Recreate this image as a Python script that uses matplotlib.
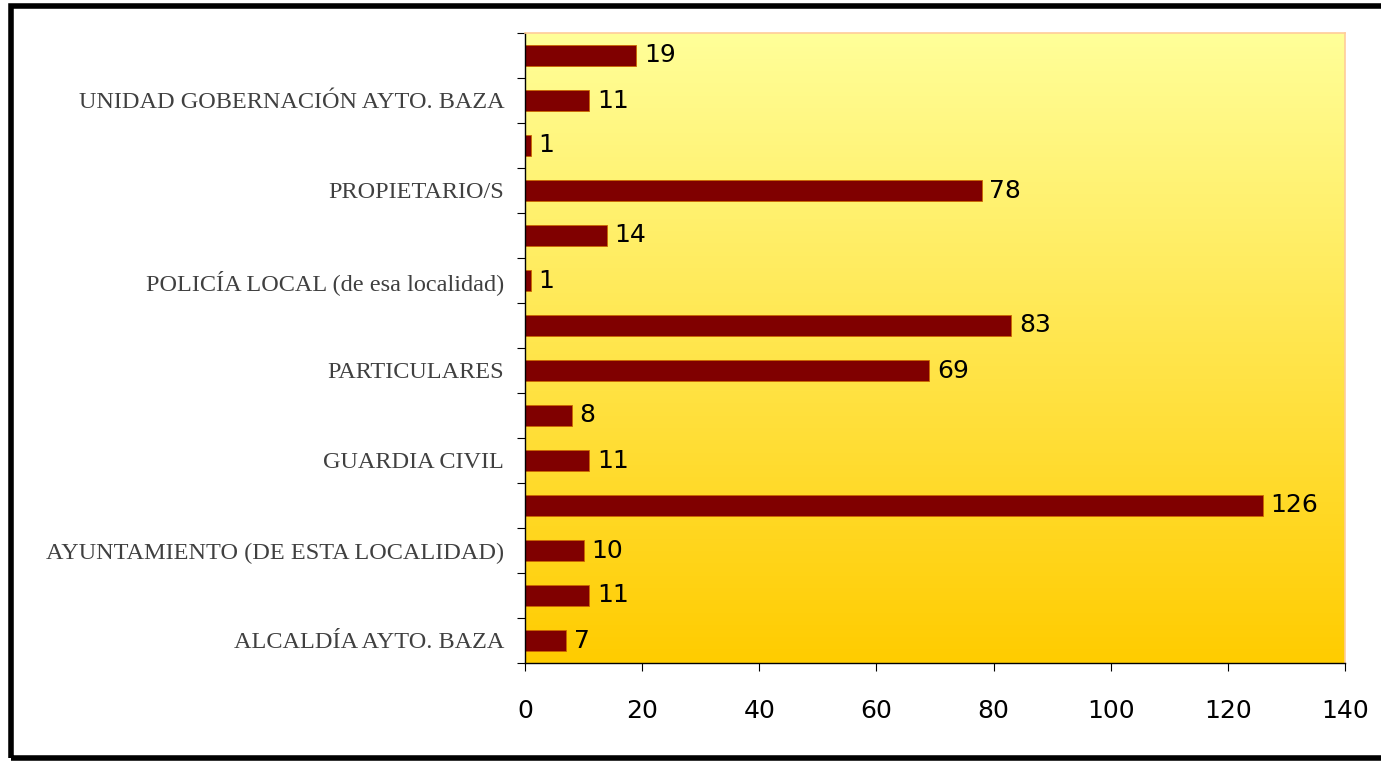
import numpy as np
import matplotlib
matplotlib.use("Agg")
import matplotlib.pyplot as plt
from matplotlib.colors import LinearSegmentedColormap
from matplotlib.patches import Rectangle

# categorias de abajo a arriba (las que no tienen etiqueta visible quedan vacias)
categorias = [
    "ALCALDÍA AYTO. BAZA", "",
    "AYUNTAMIENTO (DE ESTA LOCALIDAD)", "",
    "GUARDIA CIVIL", "",
    "PARTICULARES", "",
    "POLICÍA LOCAL (de esa localidad)", "",
    "PROPIETARIO/S", "",
    "UNIDAD GOBERNACIÓN AYTO. BAZA", "",
]
valores = [7, 11, 10, 126, 11, 8, 69, 83, 1, 14, 78, 1, 11, 19]
xticks = [0, 20, 40, 60, 80, 100, 120, 140]

fig = plt.figure(figsize=(13.81, 7.64), dpi=100)
ax = fig.add_axes([525 / 1381, 1 - 663 / 764, 820 / 1381, 630 / 764])

# fondo degradado amarillo
cmap = LinearSegmentedColormap.from_list("fondo", ["#FFCC00", "#FFFF99"])
grad = np.linspace(0, 1, 256).reshape(-1, 1)
ax.imshow(grad, cmap=cmap, aspect="auto", origin="lower",
          extent=[0, 1, 0, 1], transform=ax.transAxes, zorder=0)

y = np.arange(len(valores))
ax.barh(y, valores, height=0.48, color="#800000", edgecolor="#CC6600",
        linewidth=0.6, zorder=2)

for yi, v in zip(y, valores):
    ax.text(v + 1.3, yi, str(v), va="center", ha="left", fontsize=18,
            family="DejaVu Sans", zorder=3)

ax.set_xlim(0, 140)
ax.set_ylim(-0.5, len(valores) - 0.5)
ax.set_xticks(xticks)
ax.set_xticklabels([str(t) for t in xticks], fontsize=18, family="DejaVu Sans")
ax.tick_params(axis="x", length=6, pad=20, direction="out")

# ticks en los limites entre categorias, etiquetas en el centro
ax.set_yticks(np.arange(-0.5, len(valores), 1))
ax.set_yticklabels([])
ax.set_yticks(y, minor=True)
ax.set_yticklabels(categorias, minor=True, fontsize=17.5, family="Liberation Serif",
                   color="#404040")
ax.tick_params(axis="y", which="major", length=6, direction="out")
ax.tick_params(axis="y", which="minor", length=0, pad=15)

for s in ["top", "right"]:
    ax.spines[s].set_color("#FFCC99")
    ax.spines[s].set_linewidth(1.2)
for s in ["left", "bottom"]:
    ax.spines[s].set_color("black")
    ax.spines[s].set_linewidth(1.0)

# marco negro alrededor de la figura
fig.patches.append(Rectangle((11 / 1381, 6 / 764), 1380 / 1381, 752 / 764,
                             transform=fig.transFigure, fill=False,
                             edgecolor="black", linewidth=4))

fig.savefig("out.png", dpi=100)
